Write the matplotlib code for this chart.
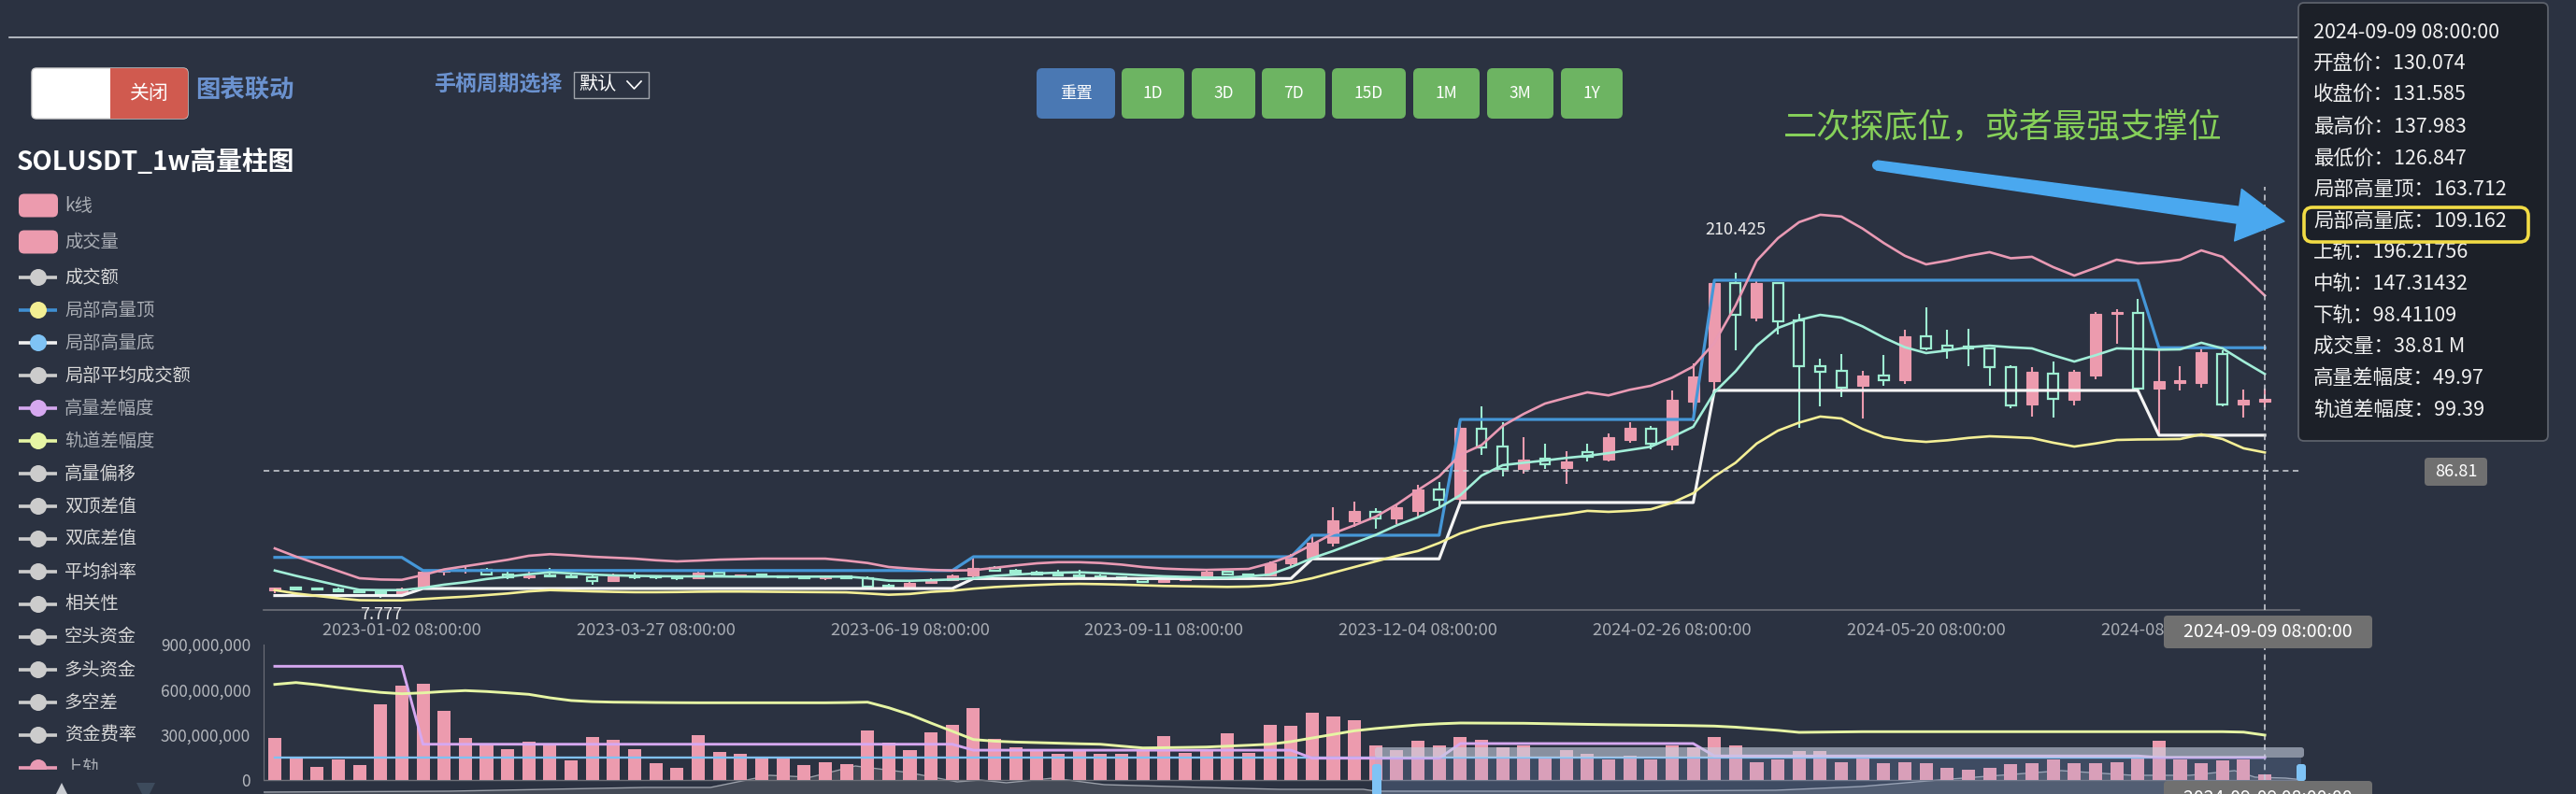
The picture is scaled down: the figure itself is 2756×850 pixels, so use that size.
import numpy as np
import pandas as pd
import matplotlib
matplotlib.use("Agg")
import matplotlib.pyplot as plt
from matplotlib.patches import FancyBboxPatch, Rectangle, Circle, Polygon
from matplotlib.ticker import FuncFormatter

# ---------------- data (SOLUSDT 1w) ----------------
dates = pd.date_range("2022-11-21 08:00:00", periods=95, freq="7D")

open_ = [12.3, 13.9, 13.3, 13.2, 11.9, 11.3, 9.9, 13.4, 23.9, 24.6,
         25.0, 22.6, 20.3, 21.5, 21.1, 20.5, 18.2, 21.0, 20.6, 20.5,
         20.0, 23.3, 21.5, 22.2, 20.9, 20.3, 19.9, 21.0, 20.2, 15.5,
         15.0, 17.2, 18.9, 21.8, 26.6, 24.4, 23.4, 22.5, 22.0, 20.8,
         20.4, 19.2, 17.8, 18.8, 19.5, 24.0, 22.6, 21.6, 29.5, 32.8,
         42.0, 55.5, 61.5, 57.5, 62.0, 75.5, 69.5, 113.0, 102.0, 88.0,
         94.5, 89.0, 98.5, 94.0, 106.0, 113.0, 103.0, 130.0, 143.0, 204.0,
         182.5, 204.0, 181.0, 152.0, 149.5, 140.0, 146.5, 143.5, 171.0, 165.0,
         164.5, 163.0, 151.5, 128.5, 147.6, 131.5, 146.4, 185.0, 185.5, 138.0,
         142.0, 142.0, 160.0, 128.6, 130.074]
high = [14.2, 14.9, 14.4, 14.1, 12.2, 11.6, 14.3, 24.8, 26.0, 26.8,
        26.5, 25.0, 24.0, 26.3, 23.0, 22.0, 22.8, 23.4, 22.0, 21.4,
        25.5, 24.5, 22.6, 23.0, 21.6, 21.3, 21.7, 21.5, 21.0, 16.6,
        17.8, 20.0, 22.6, 33.4, 27.8, 26.0, 24.6, 25.0, 25.0, 22.2,
        21.3, 20.0, 19.0, 20.4, 24.5, 24.6, 23.2, 30.7, 35.0, 46.8,
        64.0, 68.0, 63.5, 66.0, 78.0, 80.0, 119.0, 127.0, 117.0, 108.0,
        104.0, 99.0, 104.0, 110.0, 117.0, 115.0, 137.0, 154.0, 205.8, 210.425,
        205.0, 204.5, 185.0, 157.0, 160.0, 149.5, 159.0, 175.0, 189.0, 175.0,
        175.5, 164.0, 153.0, 151.6, 155.0, 150.0, 186.0, 188.0, 194.0, 163.712,
        152.0, 163.0, 162.0, 137.5, 137.983]
low = [10.9, 13.0, 13.0, 11.4, 10.9, 7.777, 9.8, 13.4, 21.6, 22.8,
       22.0, 19.6, 19.6, 20.8, 19.8, 15.8, 17.5, 19.7, 19.3, 19.1,
       19.9, 20.7, 20.5, 20.5, 19.8, 19.4, 18.9, 19.8, 13.0, 14.2,
       14.8, 16.5, 18.3, 19.8, 24.0, 22.4, 22.0, 21.8, 19.4, 19.8,
       18.9, 17.2, 17.3, 18.5, 19.0, 22.2, 20.8, 21.3, 27.8, 32.1,
       40.0, 52.0, 51.0, 54.0, 58.0, 64.0, 67.2, 97.0, 83.5, 85.0,
       88.0, 78.6, 93.0, 93.0, 104.5, 100.5, 100.0, 118.0, 137.1, 162.0,
       180.0, 172.0, 114.0, 127.0, 133.0, 119.6, 140.0, 141.0, 162.0, 157.0,
       152.0, 140.0, 126.0, 121.0, 120.0, 128.0, 144.0, 166.0, 136.0, 109.162,
       137.0, 139.0, 127.0, 120.0, 126.847]
close = [13.9, 13.3, 13.1, 11.9, 11.3, 9.9, 13.4, 23.9, 24.6, 25.0,
         22.6, 20.3, 21.5, 21.1, 20.5, 18.2, 21.0, 20.6, 20.5, 20.0,
         23.3, 21.5, 22.2, 20.9, 20.3, 19.9, 21.0, 20.2, 15.0, 15.0,
         17.2, 18.9, 21.8, 26.6, 24.4, 23.4, 22.5, 22.0, 20.8, 20.4,
         19.2, 17.8, 18.8, 19.5, 24.0, 22.6, 21.6, 29.5, 32.8, 42.0,
         56.0, 62.0, 57.5, 64.3, 75.5, 69.0, 113.5, 101.5, 88.0, 94.0,
         91.0, 93.0, 95.5, 108.0, 113.5, 104.0, 131.0, 146.0, 204.0, 184.0,
         204.0, 180.0, 152.0, 149.0, 139.0, 146.5, 143.5, 171.0, 163.5, 162.7,
         163.0, 151.5, 128.0, 149.0, 132.0, 149.0, 185.0, 186.0, 138.0, 143.0,
         143.5, 161.0, 128.5, 131.0, 131.585]

# 上轨 / 中轨 / 下轨
upper = [38.6, 33.5, 29.0, 24.5, 20.0, 19.2, 19.0, 22.0, 25.5, 27.5,
         29.5, 31.5, 34.0, 35.0, 34.3, 33.4, 32.8, 32.2, 31.2, 30.5,
         31.0, 31.6, 31.9, 32.2, 32.2, 32.2, 32.2, 31.0, 29.5, 27.0,
         26.0, 25.2, 24.8, 25.0, 26.5, 28.0, 29.3, 30.0, 30.0, 29.5,
         28.5, 27.0, 26.0, 25.5, 25.2, 25.5, 25.8, 29.3, 34.0, 41.0,
         48.0, 53.0, 58.4, 66.0, 75.0, 83.5, 97.0, 103.0, 115.0, 122.5,
         128.9, 132.5, 135.9, 134.0, 137.5, 140.0, 145.0, 152.0, 166.8, 190.0,
         218.0, 232.0, 242.0, 246.6, 245.5, 238.0, 229.0, 221.0, 215.7, 218.0,
         221.0, 223.3, 219.5, 220.4, 214.0, 208.7, 213.5, 218.6, 216.3, 217.0,
         218.6, 224.4, 220.4, 208.7, 196.21756]
mid = [24.8, 21.5, 18.5, 15.5, 12.8, 12.6, 12.6, 14.0, 16.0, 17.5,
       19.5, 21.0, 22.5, 23.7, 23.0, 22.3, 21.8, 21.5, 21.3, 21.2,
       21.2, 21.1, 21.0, 21.0, 21.0, 21.0, 21.0, 21.0, 20.0, 18.5,
       18.4, 18.8, 19.2, 20.0, 21.5, 22.3, 23.0, 23.5, 23.7, 23.2,
       22.5, 21.8, 21.2, 20.8, 20.4, 20.4, 21.2, 22.3, 27.0, 32.5,
       37.0, 42.0, 47.0, 53.0, 58.0, 64.0, 71.8, 84.0, 90.5, 92.0,
       93.4, 95.0, 96.3, 98.0, 100.0, 102.0, 108.0, 114.4, 135.9, 149.0,
       165.0, 176.0, 181.0, 184.2, 182.5, 177.0, 170.0, 164.0, 160.4, 162.0,
       164.0, 165.0, 164.0, 163.3, 159.0, 155.1, 159.0, 163.3, 163.0, 162.5,
       162.7, 166.8, 163.3, 155.1, 147.31432]
lower = [12.6, 10.5, 9.0, 7.5, 6.3, 6.2, 6.2, 7.0, 7.8, 8.5,
         9.5, 10.5, 11.8, 12.6, 12.2, 11.8, 11.5, 11.3, 11.3, 11.4,
         11.6, 11.7, 11.7, 11.6, 11.5, 11.4, 11.3, 11.2, 10.5, 9.7,
         10.2, 11.5, 12.2, 13.5, 14.5, 15.2, 15.8, 16.3, 16.5, 16.3,
         16.0, 15.6, 15.2, 15.0, 14.8, 14.6, 14.8, 15.5, 17.3, 20.0,
         23.5, 27.0, 30.5, 34.0, 37.0, 42.0, 48.0, 52.0, 54.6, 56.5,
         58.4, 60.0, 62.0, 61.4, 62.0, 63.0, 67.0, 73.0, 83.5, 92.0,
         104.0, 112.0, 117.0, 120.8, 119.6, 113.0, 108.0, 106.0, 105.0, 106.0,
         107.5, 108.5, 108.0, 107.4, 104.5, 102.1, 104.0, 106.2, 106.5, 106.6,
         106.8, 109.7, 106.8, 101.0, 98.41109]

# 局部高量顶 / 局部高量底
hv_top = [33.0, 33.0, 33.0, 33.0, 33.0, 33.0, 33.0, 24.8, 24.8, 24.8,
          24.8, 24.8, 24.8, 24.8, 24.8, 24.8, 24.8, 24.8, 24.8, 24.8,
          24.8, 24.8, 24.8, 24.8, 24.8, 24.8, 24.8, 24.8, 24.8, 24.8,
          24.8, 24.8, 24.8, 33.4, 33.4, 33.4, 33.4, 33.4, 33.4, 33.4,
          33.4, 33.4, 33.4, 33.4, 33.4, 33.4, 33.4, 33.4, 33.4, 46.8,
          46.8, 46.8, 46.8, 46.8, 46.8, 46.8, 119.0, 119.0, 119.0, 119.0,
          119.0, 119.0, 119.0, 119.0, 119.0, 119.0, 119.0, 119.0, 205.8, 205.8,
          205.8, 205.8, 205.8, 205.8, 205.8, 205.8, 205.8, 205.8, 205.8, 205.8,
          205.8, 205.8, 205.8, 205.8, 205.8, 205.8, 205.8, 205.8, 205.8, 163.712,
          163.712, 163.712, 163.712, 163.712, 163.712]
hv_bot = [9.2, 9.2, 9.2, 9.2, 9.2, 9.2, 9.2, 13.6, 13.6, 13.6,
          13.6, 13.6, 13.6, 13.6, 13.6, 13.6, 13.6, 13.6, 13.6, 13.6,
          13.6, 13.6, 13.6, 13.6, 13.6, 13.6, 13.6, 13.6, 13.6, 13.6,
          13.6, 13.6, 13.6, 19.8, 19.8, 19.8, 19.8, 19.8, 19.8, 19.8,
          19.8, 19.8, 19.8, 19.8, 19.8, 19.8, 19.8, 19.8, 19.8, 32.1,
          32.1, 32.1, 32.1, 32.1, 32.1, 32.1, 67.2, 67.2, 67.2, 67.2,
          67.2, 67.2, 67.2, 67.2, 67.2, 67.2, 67.2, 67.2, 137.1, 137.1,
          137.1, 137.1, 137.1, 137.1, 137.1, 137.1, 137.1, 137.1, 137.1, 137.1,
          137.1, 137.1, 137.1, 137.1, 137.1, 137.1, 137.1, 137.1, 137.1, 109.162,
          109.162, 109.162, 109.162, 109.162, 109.162]

# 成交量 (M)
volume = [279, 149, 89, 138, 99, 503, 627, 639, 459, 279,
          230, 207, 254, 238, 130, 283, 269, 207, 114, 79,
          295, 186, 176, 155, 145, 99, 118, 103, 331, 248,
          197, 317, 366, 476, 275, 217, 201, 172, 207, 172,
          172, 190, 290, 180, 192, 310, 182, 368, 362, 445,
          424, 397, 228, 201, 259, 228, 286, 269, 217, 228,
          155, 201, 176, 135, 160, 138, 228, 217, 286, 228,
          120, 135, 192, 192, 118, 145, 110, 118, 114, 79,
          68, 83, 103, 114, 135, 110, 110, 118, 145, 263,
          138, 110, 130, 135, 38.81]
# 局部平均成交额 (flat line in the volume pane)
avg_turnover = [149.0] * 95

# 高量差幅度 / 轨道差幅度 (%)
hv_diff = [251.8, 251.8, 251.8, 251.8, 251.8, 251.8, 251.8, 79.2, 79.2, 79.2,
           79.2, 79.2, 79.2, 79.2, 79.2, 79.2, 79.2, 79.2, 79.2, 79.2,
           79.2, 79.2, 79.2, 79.2, 79.2, 79.2, 79.2, 79.2, 79.2, 79.2,
           79.2, 79.2, 79.2, 66.0, 66.0, 66.0, 66.0, 66.0, 66.0, 66.0,
           66.0, 66.0, 66.0, 66.0, 66.0, 66.0, 66.0, 66.0, 66.0, 48.2,
           48.2, 48.2, 48.2, 48.2, 48.2, 48.2, 80.7, 80.7, 80.7, 80.7,
           80.7, 80.7, 80.7, 80.7, 80.7, 80.7, 80.7, 80.7, 53.2, 53.2,
           53.2, 53.2, 53.2, 53.2, 53.2, 53.2, 53.2, 53.2, 53.2, 53.2,
           53.2, 53.2, 53.2, 53.2, 53.2, 53.2, 53.2, 53.2, 53.2, 49.97,
           49.97, 49.97, 49.97, 49.97, 49.97]
band_diff = [211.7, 215.8, 211.0, 204.8, 199.0, 194.0, 191.0, 193.0, 196.0, 198.0,
             196.0, 193.0, 189.7, 182.0, 176.0, 173.5, 172.4, 172.0, 171.5, 171.2,
             171.0, 171.0, 171.0, 171.0, 171.0, 171.0, 171.0, 171.5, 172.4, 160.0,
             144.8, 126.0, 108.0, 89.6, 86.0, 84.0, 82.8, 81.5, 80.2, 79.2,
             75.0, 71.0, 71.5, 72.2, 73.0, 75.0, 77.0, 79.2, 85.0, 93.0,
             101.0, 109.0, 114.0, 118.0, 122.0, 124.5, 126.2, 126.0, 125.8, 125.6,
             124.8, 124.0, 123.2, 122.5, 122.0, 121.5, 121.0, 120.3, 119.4, 117.0,
             113.5, 110.0, 105.5, 106.0, 106.5, 107.0, 107.0, 107.0, 107.0, 107.0,
             107.0, 107.0, 107.0, 107.0, 107.0, 107.0, 107.0, 107.0, 107.0, 107.0,
             107.0, 107.0, 107.0, 106.0, 99.39]

# dataZoom slider shadow (position along slider 0..1, height in px)
shadow_pos = [0.0, 0.091, 0.139, 0.187, 0.219, 0.248, 0.268, 0.290, 0.316, 0.340,
              0.351, 0.364, 0.387, 0.412, 0.461, 0.498, 0.539, 0.545, 0.650, 0.741,
              0.783, 0.821, 0.881, 0.916, 0.944, 0.966, 0.976, 0.991, 1.0]
shadow_val = [2, 3, 5, 7, 7, 20, 18, 30, 23, 13,
              15, 12, 17, 10, 7, 5, 5, 3, 3, 4,
              8, 15, 25, 20, 20, 25, 18, 17, 15]

y_pointer = 86.81
tick_idx = [6, 18, 30, 42, 54, 66, 78, 90]
title = "SOLUSDT_1w高量柱图"
note = "二次探底位，或者最强支撑位"

legend_names = ["k线", "成交量", "成交额", "局部高量顶", "局部高量底", "局部平均成交额",
                "高量差幅度", "轨道差幅度", "高量偏移", "双顶差值", "双底差值", "平均斜率",
                "相关性", "空头资金", "多头资金", "多空差", "资金费率", "上轨"]
btn_labels = ["重置", "1D", "3D", "7D", "15D", "1M", "3M", "1Y"]

# ---------------- styles ----------------
W, H = 2756, 850
BG = "#2b3241"
PINK = "#ec9bae"
MINT = "#9eeed2"
BLUE = "#4597d8"
UP_C = "#e99ab4"
MID_C = "#a2eed8"
LOW_C = "#f4ef96"
PURPLE = "#d6a8f0"
YEL2 = "#e6f5a4"
AXIS_C = "#6e7079"
GRAY_T = "#a9adb4"

legend_line = ["", "", "#cccccc", "#3f8fd2", "#f0f0f0", "#cccccc", PURPLE, YEL2] + ["#cccccc"] * 9 + [UP_C]
legend_dot = [PINK, PINK, "#cccccc", "#f3ef93", "#7fc3f5", "#cccccc", PURPLE, YEL2] + ["#cccccc"] * 9 + [UP_C]
legend_on = [1, 1, 0, 1, 1, 0, 1, 1] + [0] * 9 + [1]
btn_x = [(1109, 1193), (1200, 1267), (1275, 1343), (1350, 1418),
         (1425, 1504), (1512, 1583), (1591, 1662), (1670, 1736)]

plt.rcParams["font.family"] = ["Noto Sans CJK SC", "DejaVu Sans"]

fig = plt.figure(figsize=(W / 100, H / 100), dpi=100)
fig.patch.set_facecolor(BG)


def px_axes(x0, y0, x1, y1, z=1):
    a = fig.add_axes([x0 / W, 1 - y1 / H, (x1 - x0) / W, (y1 - y0) / H], zorder=z)
    a.patch.set_alpha(0)
    return a


n = len(close)
x = np.arange(n)
o, hi, lo, c = (np.asarray(v, float) for v in (open_, high, low, close))
up = c >= o
XL = (-0.53, 95.63)

# ---------------- slider shadow (behind the volume bars) ----------------
axs = px_axes(282, 800, 2465, 880, z=0)
axs.set_xlim(0, 1)
axs.set_ylim(-30, 50)
axs.axis("off")
axs.fill_between(shadow_pos, -30, shadow_val, color="#444a56", lw=0)
axs.plot(shadow_pos, shadow_val, color="#9ca1aa", lw=1)

# ---------------- main price chart ----------------
ax = px_axes(282, 200, 2460, 653)
ax.set_xlim(*XL)
ax.set_ylim(0.206, 264.03)
ax.vlines(x[up], lo[up], hi[up], color=PINK, lw=1.5, zorder=2)
ax.vlines(x[~up], lo[~up], hi[~up], color=MINT, lw=1.5, zorder=2)
body = np.maximum(np.abs(c - o), 0.6)
bot = np.minimum(o, c)
ax.bar(x[up], body[up], bottom=bot[up], width=0.53, color=PINK,
       edgecolor=PINK, lw=0.8, zorder=3)
ax.bar(x[~up], body[~up], bottom=bot[~up], width=0.48, color=BG,
       edgecolor=MINT, lw=1.6, zorder=3)
ax.plot(x, hv_top, color=BLUE, lw=2.3, zorder=4)
ax.plot(x, hv_bot, color="#f4f4f4", lw=2.3, zorder=4)
ax.plot(x, upper, color=UP_C, lw=1.9, zorder=5)
ax.plot(x, mid, color=MID_C, lw=1.9, zorder=5)
ax.plot(x, lower, color=LOW_C, lw=1.9, zorder=5)

imin = int(np.argmin(lo))
imax = int(np.argmax(hi))
ax.annotate(f"{lo[imin]:.3f}", (imin, lo[imin]), xytext=(0, -13),
            textcoords="offset points", ha="center", va="center",
            color="#ececec", fontsize=13, zorder=6)
ax.annotate(f"{hi[imax]:.3f}", (imax, hi[imax]), xytext=(0, 33),
            textcoords="offset points", ha="center", va="center",
            color="#ececec", fontsize=13, zorder=6)

dash = dict(color="#d2d5da", lw=1.1, ls=(0, (4, 3)), zorder=6)
ax.axhline(y_pointer, **dash)
ax.axvline(n - 1, **dash)

for s in ("top", "right", "left"):
    ax.spines[s].set_visible(False)
ax.spines["bottom"].set_color(AXIS_C)
ax.spines["bottom"].set_linewidth(1.2)
ax.set_yticks([])
ax.set_xticks(tick_idx)
ax.set_xticklabels([dates[i].strftime("%Y-%m-%d %H:%M:%S") for i in tick_idx])
ax.tick_params(axis="x", length=0, pad=9, labelsize=13.3, colors=GRAY_T)

# ---------------- volume chart ----------------
axv = px_axes(282, 680, 2460, 850)
axv.set_xlim(*XL)
axv.set_ylim(-93.1, 962.1)
axv.bar(x, volume, width=0.62, color=PINK, zorder=2)
axv.plot(x, avg_turnover, color="#80c1f2", lw=1.7, zorder=3)
axv.axhline(0, color=AXIS_C, lw=1, zorder=1)
for s in ("top", "right", "bottom"):
    axv.spines[s].set_visible(False)
axv.spines["left"].set_bounds(0, 900)
axv.spines["left"].set_color(AXIS_C)
axv.set_yticks([0, 300, 600, 900])
axv.yaxis.set_major_formatter(FuncFormatter(lambda v, p: f"{int(v * 1e6):,}"))
axv.tick_params(axis="y", length=0, pad=10, labelsize=12.4, colors="#b4b7bd")
axv.set_xticks([])
axv.axvline(n - 1, ymin=15 / 170, ymax=1, **dash)

axp = axv.twinx()
axp.set_zorder(2)
axp.patch.set_alpha(0)
axp.set_ylim(-31.04, 320.7)
axp.axis("off")
axp.set_xlim(*XL)
axp.plot(x, hv_diff, color=PURPLE, lw=2.1)
axp.plot(x, band_diff, color=YEL2, lw=2.1)

# ---------------- UI overlay (pixel coords) ----------------
ui = fig.add_axes([0, 0, 1, 1], zorder=10)
ui.set_xlim(0, W)
ui.set_ylim(H, 0)
ui.axis("off")


def rbox(x0, y0, w, h, r=5, **kw):
    p = FancyBboxPatch((x0, y0), w, h, boxstyle=f"round,pad=0,rounding_size={r}", **kw)
    ui.add_patch(p)
    return p


ui.plot([10, 2459], [40, 40], color="#c9cdd4", lw=1.2)

# toggle switch
rbox(34, 73, 167, 54, r=5, fc="white", ec="#d6d6d6", lw=1)
rbox(118, 73, 83, 54, r=5, fc="#d05a4f", ec="none")
ui.add_patch(Rectangle((118, 73), 12, 54, fc="#d05a4f", ec="none"))
ui.text(160, 100, "关闭", color="white", fontsize=15, ha="center", va="center")
ui.text(209, 97, "图表联动", color="#6b92cf", fontsize=19, fontweight="bold", va="center")
ui.text(464, 91, "手柄周期选择", color="#6b92cf", fontsize=16.5, fontweight="bold", va="center")
ui.add_patch(Rectangle((614, 77), 80, 28, fc="none", ec="#a0a4ab", lw=1))
ui.text(619, 91, "默认", color="white", fontsize=14.5, va="center")
ui.plot([671, 678.5, 686], [87, 95, 87], color="white", lw=1.2)

# title + legend
ui.text(18, 174, title, color="white", fontsize=20, fontweight="bold", va="center")
rows = [220, 259] + [297 + 35 * k for k in range(16)]
for i, name in enumerate(legend_names):
    y = rows[i]
    if i < 2:
        rbox(20, y - 12.5, 42, 25, r=6, fc=legend_dot[i], ec="none")
    else:
        ui.plot([20, 61], [y, y], color=legend_line[i], lw=2.6, solid_capstyle="butt")
        ui.add_patch(Circle((41, y), 9, fc=legend_dot[i], ec="none", zorder=2.5))
    ui.text(69, y, name, color=GRAY_T if legend_on[i] else "#d8d8d8",
            fontsize=13.9, va="center")
ui.add_patch(Rectangle((0, 823.5), 220, 15, fc=BG, ec="none", zorder=5))
ui.add_patch(Polygon([(56, 858), (76, 858), (66, 838)], fc="#c9ccd1", ec="none", zorder=6))
ui.add_patch(Polygon([(146, 838), (166, 838), (156, 858)], fc="#3d4b5c", ec="none", zorder=6))

# period buttons
for i, (lab, (x0, x1)) in enumerate(zip(btn_labels, btn_x)):
    rbox(x0, 73, x1 - x0, 54, r=6, fc="#4a78b3" if i == 0 else "#6db462", ec="none")
    ui.text((x0 + x1) / 2, 100, lab, color="white", fontsize=12.5, ha="center", va="center")

# annotation text and arrow
ui.text(1908, 137, note, color="#86d05a", fontsize=26, va="center")
tail = np.array([2008.0, 177.0])
tip = np.array([2444.0, 237.0])
u = (tip - tail) / np.hypot(*(tip - tail))
nrm = np.array([-u[1], u[0]])
base = tip - 50 * u
arrow_pts = [tail + 5 * nrm, base + 9 * nrm, base + 28 * nrm, tip,
             base - 28 * nrm, base - 9 * nrm, tail - 5 * nrm]
ui.add_patch(Polygon(arrow_pts, closed=True, fc="#4aa8ef", ec="#4aa8ef",
                     lw=1, joinstyle="round", zorder=7))
ui.add_patch(Circle(tuple(tail), 5, fc="#4aa8ef", ec="none", zorder=7))

# tooltip
rbox(2459, 3, 267, 469, r=6, fc="#1c2028", ec="#5c616b", lw=1.3, zorder=8)
tip_rows = [dates[-1].strftime("%Y-%m-%d %H:%M:%S"),
            f"开盘价：{open_[-1]:.3f}", f"收盘价：{close[-1]:.3f}",
            f"最高价：{high[-1]:.3f}", f"最低价：{low[-1]:.3f}",
            f"局部高量顶：{hv_top[-1]:.3f}", f"局部高量底：{hv_bot[-1]:.3f}",
            f"上轨：{upper[-1]:.5f}", f"中轨：{mid[-1]:.5f}", f"下轨：{lower[-1]:.5f}",
            f"成交量：{volume[-1]:.2f} M", f"高量差幅度：{hv_diff[-1]:.2f}",
            f"轨道差幅度：{band_diff[-1]:.2f}"]
for i, t in enumerate(tip_rows):
    ui.text(2475, 35 + 33.6 * i, t, color="#f0f0f0", fontsize=15.5, va="center", zorder=9)
rbox(2465, 222, 240, 37, r=9, fc="none", ec="#f2dc45", lw=2.6, zorder=9)

# axis pointer labels
rbox(2315, 659, 223, 35, r=4, fc="#707070", ec="none", zorder=8)
ui.text(2426.5, 677, dates[-1].strftime("%Y-%m-%d %H:%M:%S"), color="white",
        fontsize=14, ha="center", va="center", zorder=9)
rbox(2315, 836, 223, 35, r=4, fc="#707070", ec="none", zorder=8)
ui.text(2426.5, 855, dates[-1].strftime("%Y-%m-%d %H:%M:%S"), color="white",
        fontsize=14, ha="center", va="center", zorder=9)
rbox(2594, 490, 67, 30, r=4, fc="#707070", ec="none", zorder=8)
ui.text(2627.5, 505, f"{y_pointer:.2f}", color="white", fontsize=13,
        ha="center", va="center", zorder=9)

# dataZoom slider selection over the volume pane
ui.add_patch(Rectangle((1471, 811), 991, 40, fc="#8fb0e8", alpha=0.2, ec="none", zorder=3))
rbox(1471, 800, 994, 11, r=3, fc="#c8d0e0", alpha=0.6, ec="none", zorder=3)
rbox(1468, 818, 10, 34, r=3, fc="#7fc3f5", ec="none", zorder=4)
rbox(2457, 818, 10, 18, r=3, fc="#7fc3f5", ec="none", zorder=4)

fig.savefig("out.png", dpi=100, facecolor=fig.get_facecolor())
